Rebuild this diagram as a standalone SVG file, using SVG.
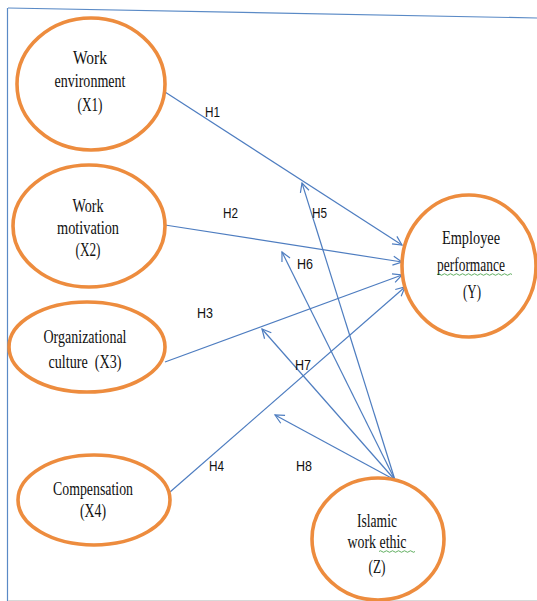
<svg xmlns="http://www.w3.org/2000/svg" width="537" height="601" viewBox="0 0 537 601">
<style>
.node ellipse{fill:#fff;stroke:#ED8C3E;stroke-width:3.6}
.t{font-family:"Liberation Serif","Times New Roman",serif;font-size:18px;fill:#111;text-anchor:middle}
.h{font-family:"Liberation Sans",Arial,sans-serif;font-size:15px;fill:#111}
.c line{stroke:#4E7DC0;stroke-width:1.2;fill:none}
.frame{stroke:#5A8AC6;stroke-width:1.2;fill:none}
.sp{stroke:#3a9a3a;stroke-width:0.8;fill:none}
</style>
<defs>
<marker id="ar" markerUnits="userSpaceOnUse" markerWidth="14" markerHeight="12" viewBox="-10 -6 12 12" refX="0" refY="0" orient="auto">
<path d="M-9,-4.5 L0,0 L-9,4.5" fill="none" stroke="#4E7DC0" stroke-width="1.2"/>
</marker>
</defs>
<rect width="537" height="601" fill="#fff"/>
<g id="frame">
<line class="frame" x1="8" y1="8" x2="537" y2="18"/>
<line class="frame" x1="7.5" y1="8" x2="7.5" y2="601"/>
<line x1="8" y1="600.5" x2="537" y2="600.5" stroke="#d8d8d8" stroke-width="1"/>
</g>
<g id="connectors" class="c">
<line x1="165" y1="92" x2="402" y2="245" marker-end="url(#ar)"/>
<line x1="165" y1="225" x2="402" y2="262" marker-end="url(#ar)"/>
<line x1="165" y1="362" x2="402" y2="275" marker-end="url(#ar)"/>
<line x1="170" y1="492" x2="405" y2="287" marker-end="url(#ar)"/>
<line x1="395" y1="480" x2="302" y2="183" marker-end="url(#ar)"/>
<line x1="395" y1="480" x2="282" y2="252" marker-end="url(#ar)"/>
<line x1="395" y1="480" x2="262" y2="329" marker-end="url(#ar)"/>
<line x1="395" y1="480" x2="275" y2="415" marker-end="url(#ar)"/>
</g>
<g id="labels">
<text class="h" x="205" y="117" textLength="15" lengthAdjust="spacingAndGlyphs">H1</text>
<text class="h" x="223" y="218" textLength="15" lengthAdjust="spacingAndGlyphs">H2</text>
<text class="h" x="197" y="318" textLength="16" lengthAdjust="spacingAndGlyphs">H3</text>
<text class="h" x="209" y="471" textLength="15" lengthAdjust="spacingAndGlyphs">H4</text>
<text class="h" x="312" y="218" textLength="15" lengthAdjust="spacingAndGlyphs">H5</text>
<text class="h" x="297" y="269" textLength="16" lengthAdjust="spacingAndGlyphs">H6</text>
<text class="h" x="295" y="370" textLength="16" lengthAdjust="spacingAndGlyphs">H7</text>
<text class="h" x="296" y="471" textLength="16" lengthAdjust="spacingAndGlyphs">H8</text>
</g>
<g id="X1" class="node">
<ellipse cx="91" cy="84" rx="74" ry="66"/>
<text class="t" x="90" y="64" textLength="34" lengthAdjust="spacingAndGlyphs">Work</text>
<text class="t" x="90" y="87" textLength="71" lengthAdjust="spacingAndGlyphs">environment</text>
<text class="t" x="90" y="111" textLength="25" lengthAdjust="spacingAndGlyphs">(X1)</text>
</g>
<g id="X2" class="node">
<ellipse cx="89" cy="226" rx="76" ry="61"/>
<text class="t" x="88" y="212" textLength="31" lengthAdjust="spacingAndGlyphs">Work</text>
<text class="t" x="88" y="234" textLength="62" lengthAdjust="spacingAndGlyphs">motivation</text>
<text class="t" x="88" y="256" textLength="25" lengthAdjust="spacingAndGlyphs">(X2)</text>
</g>
<g id="X3" class="node">
<ellipse cx="87" cy="347" rx="78" ry="45"/>
<text class="t" x="85" y="343" textLength="83" lengthAdjust="spacingAndGlyphs">Organizational</text>
<text class="t" x="85" y="368" textLength="73" lengthAdjust="spacingAndGlyphs" xml:space="preserve">culture  (X3)</text>
</g>
<g id="X4" class="node">
<ellipse cx="94" cy="500" rx="76" ry="45"/>
<text class="t" x="93" y="495" textLength="80" lengthAdjust="spacingAndGlyphs">Compensation</text>
<text class="t" x="93" y="517" textLength="26" lengthAdjust="spacingAndGlyphs">(X4)</text>
</g>
<g id="Y" class="node">
<ellipse cx="469" cy="266" rx="67" ry="71"/>
<text class="t" x="471" y="244" textLength="58" lengthAdjust="spacingAndGlyphs">Employee</text>
<text class="t" x="471" y="271" textLength="68" lengthAdjust="spacingAndGlyphs">performance</text>
<path class="sp" d="M437,274.5 q1.5,-1.5 3,0 t3,0 t3,0 t3,0 t3,0 t3,0 t3,0 t3,0 t3,0 t3,0 t3,0 t3,0 t3,0 t3,0 t3,0 t3,0 t3,0 t3,0 t3,0 t3,0 t3,0 t3,0 t3,0 t3,0 t3,0"/>
<text class="t" x="472" y="298" textLength="18" lengthAdjust="spacingAndGlyphs">(Y)</text>
</g>
<g id="Z" class="node">
<ellipse cx="378" cy="539" rx="66" ry="61"/>
<text class="t" x="377" y="527" textLength="40" lengthAdjust="spacingAndGlyphs">Islamic</text>
<text class="t" x="377" y="548" textLength="59" lengthAdjust="spacingAndGlyphs">work ethic</text>
<path class="sp" d="M379,551.5 q1.5,-1.5 3,0 t3,0 t3,0 t3,0 t3,0 t3,0 t3,0 t3,0 t3,0 t3,0 t3,0 t3,0"/>
<text class="t" x="377" y="573" textLength="17" lengthAdjust="spacingAndGlyphs">(Z)</text>
</g>
</svg>
